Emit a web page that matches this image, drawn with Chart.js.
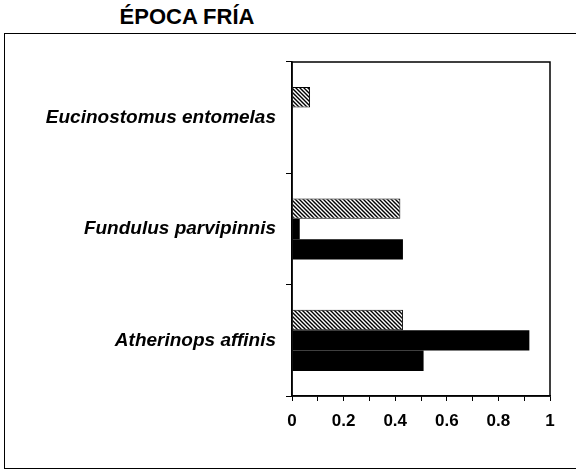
<!DOCTYPE html>
<html lang="es">
<head>
  <meta charset="UTF-8">
  <title>Época fría</title>
  <script src="https://cdn.jsdelivr.net/npm/chart.js"></script>
  <style>
    body { margin: 0; background: #fff; font-family: "Liberation Sans", Arial, sans-serif; }
    #wrap { position: relative; width: 576px; height: 470px; overflow: hidden; }
    #titulo { position: absolute; left: 0; top: 4px; width: 374px; text-align: center;
              font-weight: bold; font-size: 22px; color: #000; }
    #marco { position: absolute; left: 4px; top: 33px; width: 600px; height: 434px;
             border: 1.5px solid #000; }
    canvas { position: absolute; left: 0; top: 0; }
  </style>
</head>
<body>
  <div id="wrap">
    <div id="titulo">ÉPOCA FRÍA</div>
    <div id="marco"></div>
    <canvas id="chart" width="576" height="470"></canvas>
  </div>
  <script>
    const especies = ['Eucinostomus entomelas', 'Fundulus parvipinnis', 'Atherinops affinis'];
    const serieRayada = [0.07, 0.42, 0.43];
    const serieNegra1 = [0, 0.03, 0.92];
    const serieNegra2 = [0, 0.43, 0.51];
    const etiquetasX = ['0', '0.2', '0.4', '0.6', '0.8', '1'];

    // diagonal hatch like the scanned original
    function hatch() {
      const c = document.createElement('canvas');
      c.width = 4; c.height = 4;
      const g = c.getContext('2d');
      g.fillStyle = '#fff';
      g.fillRect(0, 0, 4, 4);
      g.strokeStyle = '#000';
      g.lineWidth = 1.4;
      g.beginPath();
      g.moveTo(-1, -1); g.lineTo(5, 5);
      g.moveTo(-1, 3); g.lineTo(1, 5);
      g.moveTo(3, -1); g.lineTo(5, 1);
      g.stroke();
      return g.createPattern(c, 'repeat');
    }

    const marcoPlot = {
      id: 'marcoPlot',
      afterDraw(chart) {
        const a = chart.chartArea, ctx = chart.ctx;
        ctx.save();
        ctx.strokeStyle = '#000';
        ctx.lineWidth = 1.5;
        ctx.strokeRect(a.left, a.top, a.right - a.left, a.bottom - a.top);
        ctx.restore();
      }
    };

    const ctx = document.getElementById('chart').getContext('2d');
    new Chart(ctx, {
      type: 'bar',
      data: {
        labels: especies,
        datasets: [
          { data: serieRayada, backgroundColor: hatch(), borderColor: '#000', borderWidth: 1 },
          { data: serieNegra1, backgroundColor: '#000', borderColor: '#000', borderWidth: 0 },
          { data: serieNegra2, backgroundColor: '#000', borderColor: '#000', borderWidth: 0 }
        ]
      },
      options: {
        indexAxis: 'y',
        responsive: false,
        animation: false,
        layout: { padding: { top: 62, right: 26, bottom: 0, left: 0 } },
        datasets: { bar: { categoryPercentage: 0.55, barPercentage: 1.0 } },
        plugins: { legend: { display: false }, tooltip: { enabled: false } },
        scales: {
          x: {
            min: 0, max: 1,
            afterFit(s) { s.height = 74; },
            border: { color: '#000', width: 1.5 },
            grid: { drawOnChartArea: false, color: '#000', tickLength: 5, lineWidth: 1 },
            ticks: {
              stepSize: 0.1, color: '#000', padding: 10, maxRotation: 0, autoSkip: false,
              font: { family: '"Liberation Sans", Arial, sans-serif', size: 17, weight: 'bold' },
              callback(v) {
                const k = Math.round(v * 10);
                return k % 2 === 0 ? etiquetasX[k / 2] : '';
              }
            }
          },
          y: {
            afterFit(s) { s.width = 292; },
            border: { color: '#000', width: 1.5 },
            grid: { drawOnChartArea: false, offset: true, color: '#000', tickLength: 6 },
            ticks: {
              color: '#000', padding: 10,
              font: { family: '"Liberation Sans", Arial, sans-serif', size: 19, weight: 'bold', style: 'italic' }
            }
          }
        }
      },
      plugins: [marcoPlot]
    });
  </script>
</body>
</html>
